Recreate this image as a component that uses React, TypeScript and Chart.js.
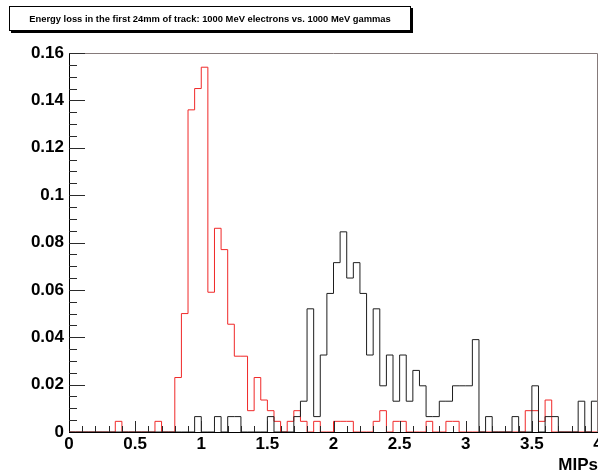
import React, { useEffect, useRef } from 'react';
import { Chart, registerables } from 'chart.js';

Chart.register(...registerables);

const TITLE = 'Energy loss in the first 24mm of track: 1000 MeV electrons vs. 1000 MeV gammas';
const X_TITLE = 'MIPs';

const X_MIN = 0;
const X_MAX = 4;
const BIN_WIDTH = 0.05;
const Y_MIN = 0;
const Y_MAX = 0.16;
const X_TICK_STEP = 0.5;
const X_MINOR_STEP = 0.1;
const Y_TICK_STEP = 0.02;
const Y_MINOR_STEP = 0.005;

// fraction of entries per 0.05-MIP bin, bins from 0.00 to 4.00
const electrons = [
  0, 0, 0, 0, 0, 0, 0, 0.0045, 0, 0,
  0, 0, 0, 0.0045, 0, 0, 0.023, 0.05, 0.136, 0.145,
  0.154, 0.059, 0.086, 0.077, 0.0455, 0.032, 0.032, 0.009, 0.023, 0.0135,
  0.009, 0.0045, 0, 0.0045, 0.009, 0.0045, 0, 0.0045, 0, 0,
  0.0045, 0.0045, 0.0045, 0, 0, 0, 0.0045, 0.009, 0, 0.0045,
  0.0045, 0, 0, 0, 0.0045, 0, 0, 0.0045, 0.0045, 0,
  0, 0, 0, 0, 0, 0, 0, 0, 0, 0.009,
  0.009, 0.0045, 0.0135, 0, 0, 0, 0, 0, 0, 0,
];

const gammas = [
  0, 0, 0, 0, 0, 0, 0, 0, 0, 0,
  0, 0, 0, 0, 0, 0, 0, 0, 0, 0.0065,
  0, 0, 0.0065, 0, 0.0065, 0.0065, 0, 0, 0, 0,
  0.0065, 0, 0, 0, 0.0065, 0.013, 0.052, 0.0065, 0.0325, 0.0585,
  0.0715, 0.0845, 0.065, 0.0715, 0.0585, 0.0325, 0.052, 0.0195, 0.0325, 0.013,
  0.0325, 0.013, 0.026, 0.0195, 0.0065, 0.0065, 0.013, 0.013, 0.0195, 0.0195,
  0.0195, 0.039, 0, 0.0065, 0, 0, 0, 0.0065, 0, 0,
  0.0195, 0, 0.0065, 0.0065, 0, 0, 0, 0.013, 0, 0.013,
];

const FONT = '"Liberation Sans", Arial, Helvetica, sans-serif';

function toSteps(values: number[]) {
  const pts: { x: number; y: number }[] = [{ x: X_MIN, y: 0 }];
  values.forEach((v, i) => pts.push({ x: X_MIN + i * BIN_WIDTH, y: v }));
  pts.push({ x: X_MAX, y: values[values.length - 1] });
  pts.push({ x: X_MAX, y: 0 });
  return pts;
}

const innerTicks = {
  id: 'innerTicks',
  afterDatasetsDraw(chart: any) {
    const { ctx, chartArea, scales } = chart;
    const { left, right, top, bottom } = chartArea;
    const xs = scales.x;
    const ys = scales.y;
    ctx.save();
    ctx.lineWidth = 1;
    // frame (top and right)
    ctx.strokeStyle = '#857a7a';
    ctx.beginPath();
    ctx.moveTo(left, Math.round(top) + 0.5);
    ctx.lineTo(Math.round(right) - 0.5, Math.round(top) + 0.5);
    ctx.lineTo(Math.round(right) - 0.5, bottom);
    ctx.stroke();
    // ticks
    ctx.strokeStyle = '#2a2a2a';
    ctx.beginPath();
    const nY = Math.round((Y_MAX - Y_MIN) / Y_MINOR_STEP);
    const perY = Math.round(Y_TICK_STEP / Y_MINOR_STEP);
    for (let i = 1; i <= nY; i++) {
      const py = Math.round(ys.getPixelForValue(Y_MIN + i * Y_MINOR_STEP)) + 0.5;
      const len = i % perY === 0 ? 16 : 8;
      ctx.moveTo(left, py);
      ctx.lineTo(left + len, py);
    }
    const nX = Math.round((X_MAX - X_MIN) / X_MINOR_STEP);
    const perX = Math.round(X_TICK_STEP / X_MINOR_STEP);
    for (let i = 1; i < nX; i++) {
      const px = Math.round(xs.getPixelForValue(X_MIN + i * X_MINOR_STEP)) + 0.5;
      const len = i % perX === 0 ? 11 : 6;
      ctx.moveTo(px, bottom);
      ctx.lineTo(px, bottom - len);
    }
    ctx.stroke();
    ctx.restore();
  },
};

export default function App() {
  const canvasRef = useRef<HTMLCanvasElement>(null);

  useEffect(() => {
    const tickFont = { family: FONT, size: 17, weight: 'bold' as const };
    const chart = new Chart(canvasRef.current as HTMLCanvasElement, {
      type: 'line',
      data: {
        datasets: [
          {
            label: '1000 MeV gammas',
            data: toSteps(gammas),
            borderColor: '#1e1e1e',
            borderWidth: 1,
            pointRadius: 0,
            stepped: 'before',
            fill: false,
          },
          {
            label: '1000 MeV electrons',
            data: toSteps(electrons),
            borderColor: 'rgb(240,40,40)',
            borderWidth: 1,
            pointRadius: 0,
            stepped: 'before',
            fill: false,
          },
        ],
      },
      options: {
        animation: false,
        responsive: false,
        layout: { padding: { top: 53, right: 0, left: 0, bottom: 0 } },
        plugins: {
          legend: { display: false },
          title: { display: false },
          tooltip: { enabled: false },
        },
        scales: {
          x: {
            type: 'linear',
            min: X_MIN,
            max: X_MAX,
            grid: { display: false, drawTicks: false },
            border: { display: true, color: '#000', width: 1 },
            ticks: {
              stepSize: X_TICK_STEP,
              padding: 2,
              color: '#000',
              font: tickFont,
              maxRotation: 0,
              autoSkip: false,
              callback: (v: any) => String(+Number(v).toFixed(2)),
            },
            title: {
              display: true,
              text: X_TITLE,
              align: 'end',
              color: '#000',
              font: { family: FONT, size: 17, weight: 'bold', lineHeight: 1 },
              padding: { top: 0, bottom: -1 },
            },
            afterFit: (s: any) => {
              s.height = 41;
              s.paddingLeft = 0;
              s.paddingRight = 0;
            },
          },
          y: {
            type: 'linear',
            min: Y_MIN,
            max: Y_MAX,
            grid: { display: false, drawTicks: false },
            border: { display: true, color: '#000', width: 1 },
            ticks: {
              stepSize: Y_TICK_STEP,
              padding: 5,
              color: '#000',
              font: tickFont,
              callback: (v: any) => String(+Number(v).toFixed(2)),
            },
            afterFit: (s: any) => {
              s.width = 69;
              s.paddingTop = 0;
              s.paddingBottom = 0;
            },
          },
        },
      },
      plugins: [innerTicks],
    } as any);
    return () => chart.destroy();
  }, []);

  return (
    <div style={{ position: 'absolute', left: 0, top: 0, width: 598, height: 473, background: '#fff', overflow: 'hidden' }}>
      <canvas ref={canvasRef} width={598} height={473} style={{ display: 'block' }} />
      <div
        style={{
          position: 'absolute',
          left: 9,
          top: 6,
          width: 400,
          height: 23,
          border: '1px solid #000',
          boxShadow: '2px 2px 0 #000',
          background: '#fff',
          fontFamily: FONT,
          fontWeight: 'bold',
          fontSize: 9.4,
          lineHeight: '23px',
          textAlign: 'center',
          whiteSpace: 'nowrap',
          color: '#000',
        }}
      >
        {TITLE}
      </div>
    </div>
  );
}
